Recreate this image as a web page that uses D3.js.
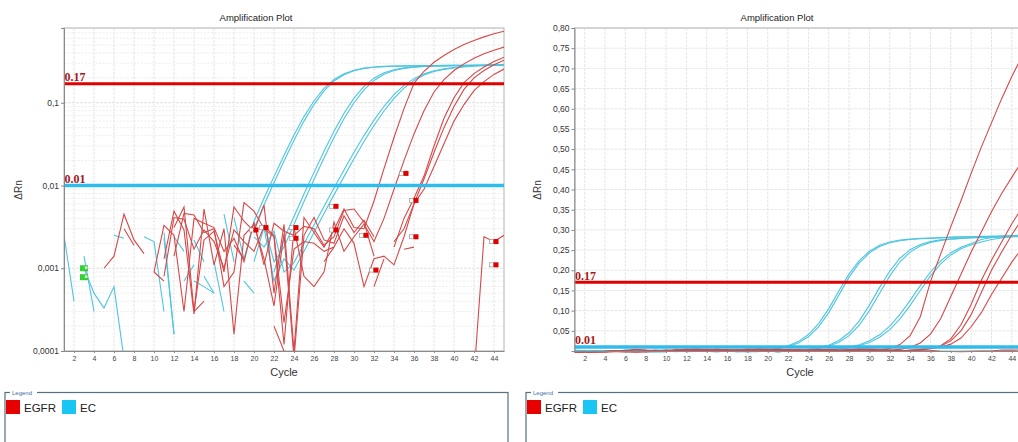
<!DOCTYPE html>
<html><head><meta charset="utf-8">
<script src="https://cdn.jsdelivr.net/npm/d3@7"></script>
<style>body{margin:0;background:#fff;overflow:hidden}svg{display:block;font-family:"Liberation Sans",Arial,sans-serif}</style>
</head><body><svg id="c" width="1018" height="442"></svg>
<script>
// ---------- DATA ----------
const cycles = [1,2,3,4,5,6,7,8,9,10,11,12,13,14,15,16,17,18,19,20,21,22,23,24,25,26,27,28,29,30,31,32,33,34,35,36,37,38,39,40,41,42,43,44,45];
const xTicks = [2,4,6,8,10,12,14,16,18,20,22,24,26,28,30,32,34,36,38,40,42,44];
const logTicks = [0.1,0.01,0.001,0.0001];
const logTickLabels = ["0,1","0,01","0,001","0,0001"];
const linTicks = [0.05,0.10,0.15,0.20,0.25,0.30,0.35,0.40,0.45,0.50,0.55,0.60,0.65,0.70,0.75,0.80];
const linTickLabels = ["0,05","0,10","0,15","0,20","0,25","0,30","0,35","0,40","0,45","0,50","0,55","0,60","0,65","0,70","0,75","0,80"];
const legendNames = ["EGFR","EC"];
const thresholdValues = [0.17, 0.01];
const thresholdLabels = ["0.17", "0.01"];

// EC (reference) wells
const ec1 = [0.0025,0.0004,-0.0006,-0.0003,-0.0012,0.0021,-0.0009,-0.0015,-0.0022,-0.0019,0.0027,0.00016,-0.0004,-0.0007,0.0008,0.0005,-0.0011,0.0041,0.0013,
  0.0037,0.0070,0.0128,0.0232,0.0407,0.068,0.105,0.149,0.191,0.224,0.247,0.262,0.270,0.275,0.277,0.279,0.280,0.281,0.282,0.283,0.283,0.284,0.284,0.285,0.285,0.286];
const ec2 = [-0.0012,-0.0009,0.0010,0.0005,0.00033,0.0006,0.00008,-0.0004,-0.0007,-0.00035,-0.0003,0.0024,0.0016,-0.0002,-0.0022,-0.00009,0.0045,0.0012,-0.0006,
  0.0030,0.0058,0.0108,0.0198,0.0352,0.060,0.095,0.139,0.183,0.218,0.243,0.259,0.268,0.273,0.276,0.278,0.279,0.280,0.281,0.282,0.283,0.283,0.284,0.284,0.285,0.285];
const ec3 = [-0.0006,-0.0010,0.0014,0.0003,-0.0008,-0.0025,-0.0022,-0.0005,0.0024,0.0021,0.0003,-0.0017,-0.0013,0.0007,0.0006,0.0005,-0.0026,-0.0011,0.0007,0.0005,-0.0028,0.0009,
  0.00227,0.00423,0.00787,0.0144,0.0260,0.0452,0.0746,0.1137,0.1576,0.198,0.2297,0.2509,0.2637,0.2711,0.2752,0.2775,0.279,0.280,0.281,0.282,0.282,0.283,0.283];
const ec4 = [-0.0003,-0.0002,-0.0007,-0.0009,-0.0004,-0.0002,-0.0013,-0.0018,-0.0009,-0.0015,0.0023,0.00016,-0.0009,-0.0006,-0.0004,0.0012,0.0003,-0.0021,-0.0009,-0.0003,0.0034,0.0012,
  0.0018,0.0034,0.0064,0.0118,0.0215,0.0380,0.064,0.100,0.143,0.186,0.221,0.245,0.260,0.269,0.274,0.277,0.279,0.281,0.282,0.283,0.284,0.285,0.286];
const ec5 = [-0.0011,-0.0005,-0.0004,-0.0012,-0.0008,0.0025,0.0023,-0.0006,-0.0012,-0.0002,-0.0019,-0.0008,-0.0005,0.0022,0.0012,-0.0007,-0.0006,-0.0003,-0.0016,0.0024,0.0018,0.0028,0.0009,
  0.00117,0.00198,0.00333,0.00559,0.00933,0.0154,0.0252,0.0401,0.0617,0.0906,0.1253,0.162,0.1957,0.2232,0.2435,0.2571,0.266,0.276,0.281,0.284,0.286,0.287];
const ec6 = [-0.0008,-0.0015,-0.0002,-0.0006,-0.0004,-0.0009,-0.0013,-0.0005,-0.0002,-0.0009,-0.0006,-0.0014,0.0007,0.0011,-0.0003,-0.0002,-0.0009,-0.0014,-0.0005,0.0012,0.0031,0.0007,0.0013,
  0.00095,0.0016,0.0027,0.0046,0.0077,0.0128,0.0211,0.0340,0.0530,0.0795,0.1130,0.150,0.1860,0.2160,0.2380,0.2530,0.263,0.270,0.276,0.280,0.283,0.285];

// EGFR wells
const egfrA = [-0.004,-0.003,-0.002,-0.001,0.001,0.0014,0.0045,0.0022,0.0015,-0.0005,-0.0002,0.0031,0.0055,0.0003,0.0022,0.0028,0.0009,0.0055,0.0037,0.0028,0.0058,0.0005,0.0034,0.0001,0.0041,0.0027,0.0018,0.0029,0.0052,0.0031,
  0.003,0.0065,0.016,0.038,0.085,0.172,0.24,0.308,0.372,0.44,0.505,0.565,0.625,0.68,0.73];
const egfrB = [-0.002,-0.001,-0.003,-0.0015,-0.0008,-0.0009,-0.0028,-0.0016,-0.0007,0.0024,-0.0004,0.0014,0.0046,0.0044,0.0027,0.0030,0.0006,0.0009,0.0062,0.0049,0.0030,0.0024,0.00012,0.0031,0.0008,0.0006,0.0009,0.0036,0.0016,0.0024,0.0034,0.0021,
  0.004,0.009,0.02,0.042,0.08,0.135,0.19,0.245,0.295,0.345,0.39,0.43,0.47];
const egfrC = [-0.003,-0.002,-0.0025,-0.001,-0.0010,-0.0019,-0.0006,-0.0010,-0.0003,0.0009,0.0033,0.0025,0.0003,0.0040,0.0035,0.0031,0.0016,0.0023,0.0012,0.0036,0.0011,0.0035,0.0028,0.0025,0.0032,0.0030,0.0019,0.0024,0.0050,0.0052,0.0036,0.0014,-0.0005,0.0018,
  0.004,0.007,0.013,0.03,0.065,0.115,0.175,0.225,0.27,0.315,0.355];
const egfrD = [-0.001,-0.004,-0.002,-0.0012,-0.0005,-0.0009,0.0030,0.0019,-0.0002,-0.0007,0.0013,0.0049,0.0029,0.00028,0.0052,0.0011,0.0030,0.00016,0.0025,0.0034,0.0013,0.00035,0.0026,0.00008,0.0025,0.0041,0.0022,0.0020,0.0043,0.0027,0.0038,0.0024,-0.0002,0.0021,
  0.003,0.006,0.012,0.025,0.05,0.09,0.145,0.2,0.245,0.288,0.327];
const egfrE = [-0.002,-0.003,-0.001,-0.002,-0.0004,-0.0006,-0.0012,-0.0008,0.0006,-0.0004,0.0008,0.0041,0.0039,0.0017,0.0029,0.0021,0.0010,0.0029,0.0021,0.0016,0.0032,0.0025,0.00022,0.0017,0.0021,0.0020,0.0016,0.0018,0.0030,0.0020,0.0006,0.0013,0.0014,0.0011,0.0024,
  0.006,0.009,0.017,0.032,0.06,0.095,0.14,0.18,0.22,0.255];
const egfrF = [-0.003,-0.004,-0.002,-0.003,-0.002,-0.001,-0.0015,-0.002,-0.001,0.0009,0.0007,-0.0005,-0.001,0.0003,0.0004,-0.0008,-0.001,0.0019,0.0013,-0.0005,-0.0003,0.0002,0.0001,-0.0008,-0.0012,-0.0006,0.0012,0.0018,-0.0004,-0.0010,-0.0006,0.0006,0.0013,-0.0003,0.0017,0.0018,-0.0008,-0.0012,-0.0015,-0.0010,-0.0004,0.00005,0.0024,0.0021,0.0025];

// flag markers (cycle, value)
const flagCycles = [20,21,24,24,28,28,31,32,35,36,36,44,44];
const flagValues = [0.0029,0.0031,0.0031,0.0023,0.0056,0.0029,0.0025,0.00095,0.014,0.0066,0.0024,0.0021,0.0011];
const greenFlagCycles = [3,3];
const greenFlagValues = [0.001,0.00078];

// ---------- DRAW ----------
const ecSeries = [ec1,ec2,ec3,ec4,ec5,ec6];
const egfrSeries = [egfrA,egfrB,egfrC,egfrD,egfrE,egfrF];
const RED = "#d64848", CYAN = "#4ec5e0";
const svg = d3.select("#c");

function panel(cfg){
  const x = d3.scaleLinear().domain([1,45]).range([cfg.x0,cfg.x1]);
  const y = (cfg.log ? d3.scaleLog() : d3.scaleLinear()).domain(cfg.yDomain).range([cfg.y1,cfg.y0]);
  const g = svg.append("g");
  const right = Math.min(cfg.x1, 1018);
  const grid = g.append("g");
  if (cfg.log) {
    const minor = y.ticks().filter(v => logTicks.indexOf(v) < 0 && v <= cfg.yDomain[1]);
    grid.selectAll(".mn").data(minor).join("line")
      .attr("x1",cfg.x0).attr("x2",right).attr("y1",d=>y(d)).attr("y2",d=>y(d))
      .attr("stroke","#e9e9e9").attr("stroke-dasharray","2,1.5").attr("stroke-width",0.8);
    grid.selectAll(".mj").data(logTicks).join("line")
      .attr("x1",cfg.x0).attr("x2",right).attr("y1",d=>y(d)).attr("y2",d=>y(d))
      .attr("stroke","#e0e0e0").attr("stroke-dasharray","3,1");
  } else {
    grid.selectAll(".mj").data(linTicks).join("line")
      .attr("x1",cfg.x0).attr("x2",right).attr("y1",d=>y(d)).attr("y2",d=>y(d))
      .attr("stroke","#e6e6e6").attr("stroke-dasharray","3,1");
  }
  grid.selectAll(".vx").data(xTicks).join("line")
    .attr("x1",d=>x(d)).attr("x2",d=>x(d)).attr("y1",cfg.y0).attr("y2",cfg.y1)
    .attr("stroke","#e6e6e6").attr("stroke-dasharray","3,1");
  g.append("rect").attr("x",cfg.x0).attr("y",cfg.y0).attr("width",right-cfg.x0+(cfg.x1>1018?5:0)).attr("height",cfg.y1-cfg.y0)
    .attr("fill","none").attr("stroke","#b4b4b4");
  g.append("clipPath").attr("id",cfg.clip).append("rect")
    .attr("x",cfg.x0).attr("y",cfg.y0).attr("width",cfg.x1-cfg.x0).attr("height",cfg.y1-cfg.y0+(cfg.log?0:2));
  const plot = g.append("g").attr("clip-path",`url(#${cfg.clip})`);
  const line = d3.line()
    .defined(d => cfg.log ? d.v > 0 : true)
    .x(d => x(d.c)).y(d => y(d.v));
  const toPts = arr => arr.map((v,i)=>({c:cycles[i], v:v}));
  plot.selectAll(".ec").data(ecSeries).join("path")
    .attr("d",s=>line(toPts(s))).attr("fill","none").attr("stroke",CYAN).attr("stroke-width",1.1);
  plot.selectAll(".eg").data(egfrSeries).join("path")
    .attr("d",s=>line(toPts(s))).attr("fill","none").attr("stroke",RED).attr("stroke-width",1.1);
  const thrColors = ["#e10000","#2ebcec"];
  plot.selectAll(".thr").data(thresholdValues).join("line")
    .attr("x1",cfg.x0).attr("x2",cfg.x1).attr("y1",d=>y(d)).attr("y2",d=>y(d))
    .attr("stroke",(d,i)=>thrColors[i]).attr("stroke-width",(d,i)=>i?3.5:3);
  g.selectAll(".thl").data(thresholdValues).join("text")
    .attr("x",cfg.x0+0.5).attr("y",d=>y(d)-2.5)
    .attr("font-family","'Liberation Serif','DejaVu Serif',serif").attr("font-weight","bold")
    .attr("font-size",12).attr("fill","#a81818").text((d,i)=>thresholdLabels[i]);
  if (cfg.flags) {
    const fl = plot.selectAll(".fl").data(flagCycles).join("g")
      .attr("transform",(d,i)=>`translate(${x(d)},${y(flagValues[i])})`);
    fl.append("rect").attr("x",-4.5).attr("y",-2).attr("width",4).attr("height",4).attr("fill","#fff").attr("stroke","#9a9a9a").attr("stroke-width",0.7);
    fl.append("rect").attr("x",-0.5).attr("y",-2.5).attr("width",5).attr("height",5).attr("fill","#e00000");
    const gf = plot.selectAll(".gf").data(greenFlagCycles).join("g")
      .attr("transform",(d,i)=>`translate(${x(d)},${y(greenFlagValues[i])})`);
    gf.append("rect").attr("x",-4).attr("y",-3).attr("width",8).attr("height",6).attr("fill","#34d034");
    gf.append("rect").attr("x",0.8).attr("y",-1.8).attr("width",2.6).attr("height",2.6).attr("fill","#dfffdf");
  }
  const ya = d3.axisLeft(y).tickSizeOuter(0).tickSize(3).tickPadding(2);
  if (cfg.log) ya.tickValues(logTicks).tickFormat((d,i)=>logTickLabels[i]);
  else ya.tickValues(linTicks).tickFormat((d,i)=>linTickLabels[i]);
  const yg = g.append("g").attr("transform",`translate(${cfg.x0},0)`).call(ya);
  yg.selectAll("text").attr("font-size",8.5).attr("fill","#333").attr("font-family","'Liberation Sans',Arial,sans-serif");
  yg.selectAll("line").attr("stroke","#888");
  yg.select(".domain").attr("stroke","#8a8a8a");
  const xa = d3.axisBottom(x).tickValues(xTicks).tickSize(2).tickPadding(3).tickSizeOuter(0);
  const xg = g.append("g").attr("transform",`translate(0,${cfg.y1})`).call(xa);
  xg.selectAll("text").attr("font-size",7).attr("fill","#444").attr("font-family","'Liberation Sans',Arial,sans-serif");
  xg.selectAll("line").attr("stroke","#888");
  xg.select(".domain").attr("stroke","#8a8a8a");
  g.append("text").attr("x",cfg.titleX).attr("y",21).attr("text-anchor","middle").attr("font-size",9.5).attr("fill","#222").text("Amplification Plot");
  g.append("text").attr("x",cfg.cycleX).attr("y",376).attr("text-anchor","middle").attr("font-size",11).attr("fill","#333").text("Cycle");
  g.append("text").attr("transform",`translate(${cfg.drnX},190) rotate(-90)`).attr("text-anchor","middle").attr("font-size",10).attr("fill","#333").text("ΔRn");
  const lg = g.append("g");
  lg.append("rect").attr("x",cfg.legX).attr("y",392.5).attr("width",cfg.legW).attr("height",80).attr("fill","none").attr("stroke","#55707f").attr("stroke-width",1.2);
  lg.append("rect").attr("x",cfg.legX+5).attr("y",389).attr("width",27).attr("height",7).attr("fill","#fff");
  lg.append("text").attr("x",cfg.legX+7).attr("y",394.5).attr("font-size",6).attr("fill","#3b6fa6").text("Legend");
  const legColors = ["#e60000","#19c6f3"];
  const items = lg.selectAll(".li").data(legendNames).join("g")
    .attr("transform",(d,i)=>`translate(${cfg.legX+1+i*56},400)`);
  items.append("rect").attr("width",14).attr("height",14).attr("fill",(d,i)=>legColors[i]);
  items.append("text").attr("x",18).attr("y",11.5).attr("font-size",11.5).attr("fill","#222").text(d=>d);
}

panel({x0:64,x1:504,y0:28,y1:351,log:true,yDomain:[0.0001,0.8],clip:"clipL",flags:true,
  titleX:256,cycleX:284,drnX:22,legX:5,legW:503});
panel({x0:574.5,x1:1022,y0:28,y1:351,log:false,yDomain:[0,0.8],clip:"clipR",flags:false,
  titleX:777,cycleX:800,drnX:541,legX:526,legW:600});
</script></body></html>
